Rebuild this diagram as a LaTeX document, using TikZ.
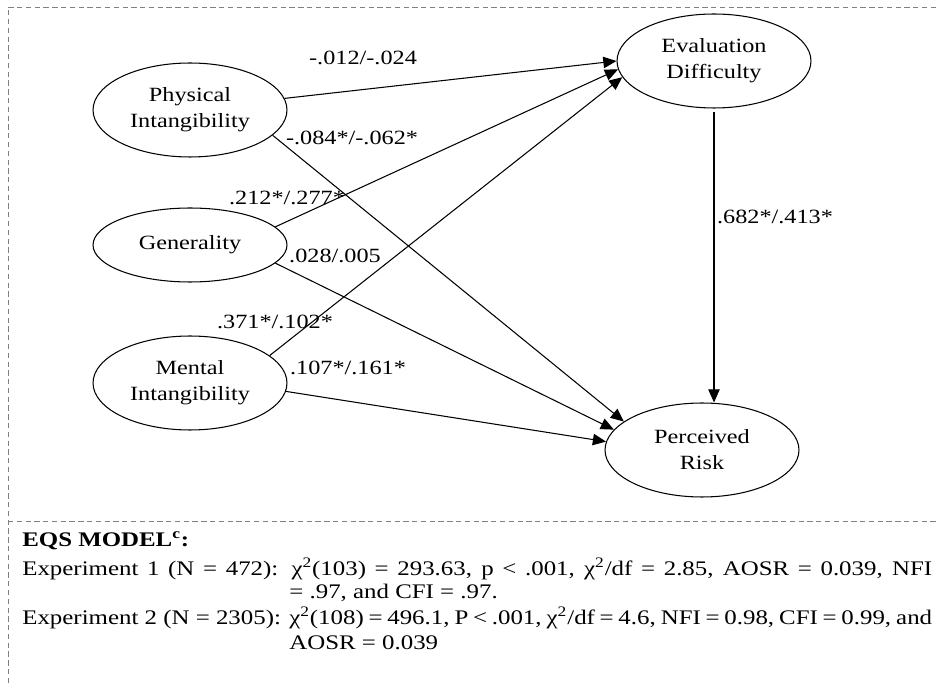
\documentclass[tikz,border=0pt]{standalone}
\usepackage{fontspec}
\setmainfont{Liberation Serif}[FakeStretch=1.2]
\usetikzlibrary{shapes.geometric,arrows.meta}

\begin{document}
\begin{tikzpicture}[x=0.02cm, y=-0.02cm,
  latent/.style={ellipse, draw, line width=0.6pt, minimum width=3.88cm, minimum height=1.88cm,
    align=center, inner sep=0, font=\fontsize{11.5}{14.7}\selectfont},
  coef/.style={inner sep=0, font=\fontsize{11.5}{14}\selectfont},
  path/.style={-{Triangle[length=7.5pt,width=6.5pt]}, line width=0.6pt},
  frame/.style={densely dashed, gray, line width=0.5pt},
  fit/.style={anchor=west, inner sep=0, font=\fontsize{11.8}{14}\selectfont}]

\useasboundingbox (0,0) rectangle (936,685);

\draw[frame] (936,7) -- (8,7) -- (8,685);
\draw[frame] (8,521) -- (936,521);

\node[latent] (phys) at (190,110) {Physical\\Intangibility};
\node[latent, minimum height=1.48cm] (gen) at (190,245) {Generality};
\node[latent] (ment) at (190,383) {Mental\\Intangibility};
\node[latent] (eval) at (714,61) {Evaluation\\Difficulty};
\node[latent] (risk) at (702,450) {Perceived\\Risk};

\draw[path] (phys.7) to (eval.180);
\draw[path] (gen.12) to (eval.185);
\draw[path] (ment.19) to (eval.190);
\draw[path] (phys.-17) to (risk.160);
\draw[path] (gen.-12) to (risk.167);
\draw[path] (ment.-5) to (risk.175);
\draw[path, shorten <=2pt] (eval.south) to (eval.south |- risk.north);

\node[coef] (c1) at (363,58) {-.012/-.024};
\node[coef] (c2) at (352,138) {-.084*/-.062*};
\node[coef] (c3) at (287,198) {.212*/.277*};
\node[coef] (c4) at (335,256) {.028/.005};
\node[coef] (c5) at (275,322) {.371*/.102*};
\node[coef] (c6) at (348,368) {.107*/.161*};
\node[coef] (c7) at (775,217) {.682*/.413*};

\node[fit] (eqs) at (22,541) {\textbf{EQS MODEL\textsuperscript{c}:}};
\node[fit] (exp1) at (22,569) {\hbox to 18.2cm{Experiment 1 (N = 472): χ\textsuperscript{2}(103) = 293.63, p < .001, χ\textsuperscript{2}/df = 2.85, AOSR = 0.039, NFI}};
\node[fit] (exp1b) at (289,593) {= .97, and CFI = .97.};
\node[fit] (exp2) at (22,618) {\makebox[5.34cm][l]{Experiment 2 (N = 2305):}\hbox to 12.86cm{χ\textsuperscript{2}(108) = 496.1, P < .001, χ\textsuperscript{2}/df = 4.6, NFI = 0.98, CFI = 0.99, and}};
\node[fit] (exp2b) at (289,643) {AOSR = 0.039};

\end{tikzpicture}
\end{document}
